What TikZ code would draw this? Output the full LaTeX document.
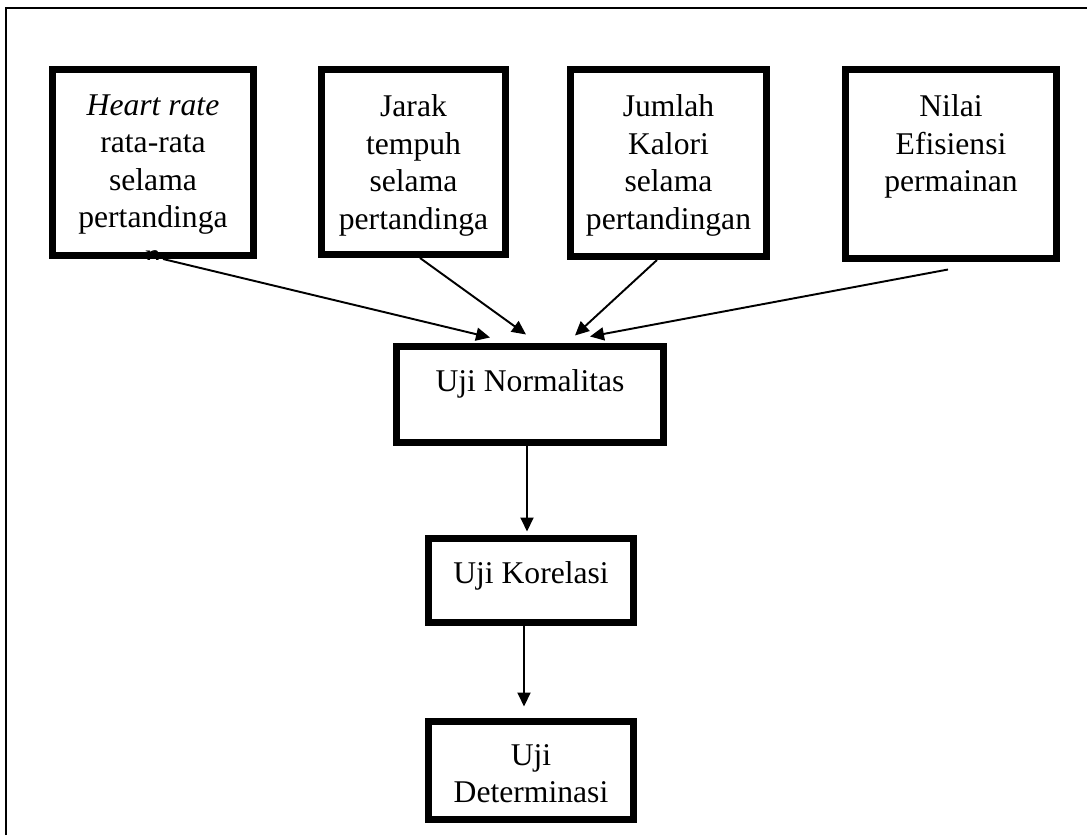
\documentclass[tikz,border=0pt]{standalone}
\usepackage{fontspec}
\setmainfont{Liberation Serif}
\usetikzlibrary{arrows.meta,positioning,calc}
\tikzset{
 box/.style={draw=black, line width=4pt, fill=white, inner sep=0pt},
 boxtext/.style={anchor=north, inner sep=0pt, align=center, font=\fontsize{18}{21.3}\selectfont},
 arrow/.style={-{Triangle[length=0.28cm,width=0.26cm]}, line width=1.1pt},
 frameline/.style={line width=1.1pt}
}

\begin{document}
\begin{tikzpicture}[x=0.02cm,y=-0.02cm]
\useasboundingbox (0,0) rectangle (1087,835);
\draw[frameline] (6,835) -- (6,8) -- (1087,8);
% variabel
\node[box,minimum width=4.02cm,minimum height=3.72cm] (hr) at (153,162.5) {};
\node[box,minimum width=3.68cm,minimum height=3.70cm] (jt) at (413.5,162) {};
\node[box,minimum width=3.92cm,minimum height=3.74cm] (jk) at (668.5,163) {};
\node[box,minimum width=4.22cm,minimum height=3.78cm] (ne) at (951,164) {};
\begin{scope}
\clip (hr.south west) rectangle (hr.north east);
\node[boxtext] (hr-txt) at ([yshift=-0.57cm]hr.north) {\textit{Heart rate}\\rata-rata\\selama\\pertandinga\\n};
\end{scope}
\node[boxtext] (jt-txt) at ([yshift=-0.57cm]jt.north) {Jarak\\tempuh\\selama\\pertandinga};
\node[boxtext] (jk-txt) at ([yshift=-0.57cm]jk.north) {Jumlah\\Kalori\\selama\\pertandingan};
\node[boxtext] (ne-txt) at ([yshift=-0.57cm]ne.north) {Nilai\\Efisiensi\\permainan};
% uji
\node[box,minimum width=5.34cm,minimum height=1.92cm] (norm) at (530,394.5) {};
\node[box,minimum width=4.10cm,minimum height=1.68cm] (kor) at (531,580.5) {};
\node[box,minimum width=4.10cm,minimum height=1.96cm] (det) at (531,770.5) {};
\node[boxtext] (norm-txt) at ([yshift=-0.52cm]norm.north) {Uji Normalitas};
\node[boxtext] (kor-txt) at ([yshift=-0.52cm]kor.north) {Uji Korelasi};
\node[boxtext] (det-txt) at ([yshift=-0.52cm]det.north) {Uji\\Determinasi};
% panah
\draw[arrow] ([xshift=0.2cm]hr.south) -- ([xshift=-0.8cm,yshift=0.11cm]norm.north);
\draw[arrow] ([xshift=0.13cm]jt.south) -- ([xshift=-0.08cm,yshift=0.17cm]norm.north);
\draw[arrow] ([xshift=-0.23cm]jk.south) -- ([xshift=0.9cm,yshift=0.15cm]norm.north);
\draw[arrow] ([xshift=-0.06cm,yshift=-0.15cm]ne.south) -- ([xshift=1.2cm,yshift=0.13cm]norm.north);
\draw[arrow] ([xshift=-0.06cm]norm.south) -- ([xshift=-0.08cm,yshift=0.07cm]kor.north);
\draw[arrow] ([xshift=-0.14cm]kor.south) -- ([xshift=-0.14cm,yshift=0.23cm]det.north);
\end{tikzpicture}
\end{document}
